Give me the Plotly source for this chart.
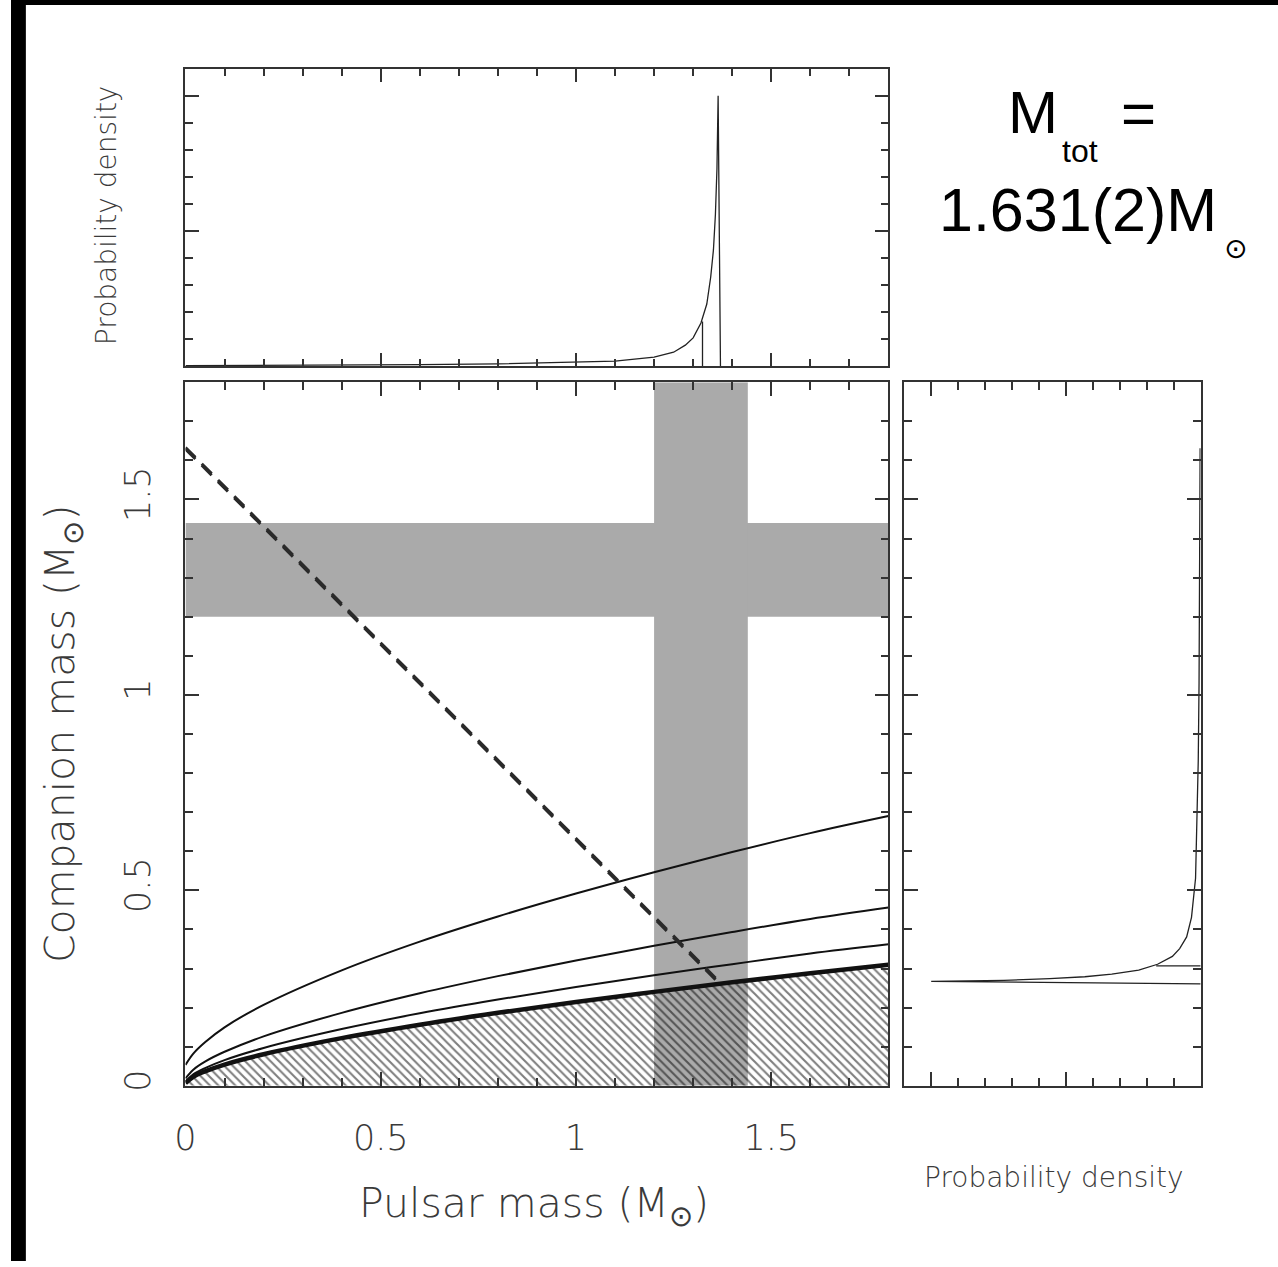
import plotly.graph_objects as go

W, H = 1278, 1267

# ---- data -------------------------------------------------------------
M_TOT = 1.631                       # total system mass (Msun)
M_TOT_ERR = 0.002

# pulsar-mass grid for the mass-function curves
pulsar_mass = [0, 0.02, 0.05, 0.1, 0.2, 0.4, 0.6, 0.8, 1.0, 1.2, 1.4, 1.6, 1.8]
# companion mass along each constant-inclination curve
mc_i30 = [0.0535, 0.0825, 0.1115, 0.1497, 0.207, 0.2955, 0.369, 0.4333, 0.492, 0.5466, 0.598, 0.6465, 0.690]
mc_i45 = [0.0189, 0.0413, 0.062, 0.0871, 0.1265, 0.1866, 0.2367, 0.2806, 0.3207, 0.3582, 0.3934, 0.4268, 0.4560]
mc_i60 = [0.0103, 0.0293, 0.0453, 0.0658, 0.0968, 0.1452, 0.1855, 0.2207, 0.2529, 0.2830, 0.3112, 0.3385, 0.362]
mc_i90 = [0.0067, 0.0232, 0.037, 0.0545, 0.0808, 0.122, 0.1563, 0.1868, 0.2145, 0.2403, 0.2648, 0.2878, 0.310]

# 1-sigma band limits for both masses
band_lo, band_hi = 1.20, 1.44

# total-mass line end point (meets the edge-on curve)
mtot_line_mp = [0.0, 1.37]

# marginal probability density of the pulsar mass
pdf_mp = [0, 0.2, 0.4, 0.6, 0.8, 1.0, 1.1, 1.2, 1.25, 1.28, 1.30, 1.32,
          1.335, 1.345, 1.352, 1.357, 1.361, 1.364, 1.370]
pdf_val = [0.02, 0.03, 0.04, 0.06, 0.09, 0.14, 0.19, 0.34, 0.52, 0.78, 1.05, 1.6,
           2.3, 3.3, 4.3, 5.6, 7.3, 10.0, 0.0]
pdf_limit_mp = 1.324
pdf_limit_val = 1.65

# ---- helpers ----------------------------------------------------------
def px(x):
    return x / W

def py(y):
    return 1 - y / H

AX_COL = '#333333'
TXT_COL = '#3a3a3a'
LIGHT = dict(family='DejaVu Sans', color=TXT_COL, weight=200)

def axis_common(**kw):
    d = dict(showline=True, linecolor=AX_COL, linewidth=1.5, mirror='allticks',
             ticks='inside', ticklen=14, tickwidth=1.5, tickcolor=AX_COL,
             showgrid=False, zeroline=False, fixedrange=True)
    d.update(kw)
    return d

fig = go.Figure()

# ---- main panel: companion vs pulsar mass ------------------------------
# hatched (excluded) region below the edge-on curve
fig.add_trace(go.Scatter(
    x=pulsar_mass, y=mc_i90, mode='lines', line=dict(width=0, shape='spline'),
    fill='tozeroy', fillcolor='rgba(0,0,0,0)',
    fillpattern=dict(shape='\\', size=6, solidity=0.35, fgcolor='#000000',
                     bgcolor='rgba(0,0,0,0)'),
    xaxis='x', yaxis='y', hoverinfo='skip', showlegend=False))

for ys, w in [(mc_i30, 2), (mc_i45, 2), (mc_i60, 2), (mc_i90, 4.5)]:
    fig.add_trace(go.Scatter(x=pulsar_mass, y=ys, mode='lines',
                             line=dict(color='#111111', width=w, shape='spline'),
                             xaxis='x', yaxis='y', showlegend=False))

# total mass constraint (two lines at +/- 1 sigma)
for m in (M_TOT - M_TOT_ERR, M_TOT + M_TOT_ERR):
    fig.add_trace(go.Scatter(x=mtot_line_mp, y=[m - v for v in mtot_line_mp],
                             mode='lines',
                             line=dict(color='#2a2a2a', width=3, dash='14px,9px'),
                             xaxis='x', yaxis='y', showlegend=False))

# ---- top panel: pulsar mass pdf ----------------------------------------
fig.add_trace(go.Scatter(x=pdf_mp, y=pdf_val, mode='lines',
                         line=dict(color='#222222', width=1.3),
                         xaxis='x2', yaxis='y2', showlegend=False))
fig.add_trace(go.Scatter(x=[pdf_limit_mp, pdf_limit_mp], y=[0, pdf_limit_val],
                         mode='lines', line=dict(color='#222222', width=1.3),
                         xaxis='x2', yaxis='y2', showlegend=False))

# ---- right panel: companion mass pdf (companion = total - pulsar) ------
fig.add_trace(go.Scatter(x=pdf_val, y=[M_TOT - m for m in pdf_mp], mode='lines',
                         line=dict(color='#222222', width=1.3),
                         xaxis='x3', yaxis='y3', showlegend=False))
fig.add_trace(go.Scatter(x=[0, pdf_limit_val], y=[M_TOT - pdf_limit_mp] * 2,
                         mode='lines', line=dict(color='#222222', width=1.3),
                         xaxis='x3', yaxis='y3', showlegend=False))

# ---- shapes: 1-sigma mass bands and frame edges -------------------------
shapes = [
    dict(type='rect', xref='x', yref='y', x0=0, x1=1.8, y0=band_lo, y1=band_hi,
         fillcolor='#aaaaaa', line=dict(width=0), layer='below'),
    dict(type='rect', xref='x', yref='y', x0=band_lo, x1=band_hi, y0=0, y1=1.8,
         fillcolor='#aaaaaa', line=dict(width=0), layer='below'),
    dict(type='rect', xref='paper', yref='paper', x0=0, x1=px(15), y0=0, y1=1,
         fillcolor='black', line=dict(width=0), layer='above'),
    dict(type='rect', xref='paper', yref='paper', x0=0, x1=1, y0=py(5), y1=1,
         fillcolor='black', line=dict(width=0), layer='above'),
]

# ---- text --------------------------------------------------------------
BIG = dict(family='Liberation Sans, Arial', color='black')
annotations = [
    dict(text='Pulsar mass (M<sub>⊙</sub>)', x=px(528), y=py(1212), showarrow=False,
         xref='paper', yref='paper', xanchor='center', yanchor='middle',
         font=dict(size=41, **LIGHT)),
    dict(text='Companion mass (M<sub>⊙</sub>)', x=px(52), y=py(738), showarrow=False,
         xref='paper', yref='paper', xanchor='center', yanchor='middle', textangle=-90,
         font=dict(size=41, **LIGHT)),
    dict(text='Probability density', x=px(97), y=py(216), showarrow=False,
         xref='paper', yref='paper', xanchor='center', yanchor='middle', textangle=-90,
         font=dict(size=28, **LIGHT)),
    dict(text='Probability density', x=px(1052), y=py(1183), showarrow=False,
         xref='paper', yref='paper', xanchor='center', yanchor='middle',
         font=dict(size=28, **LIGHT)),
    dict(text='M', x=px(1031), y=py(113), showarrow=False, xref='paper', yref='paper',
         xanchor='center', yanchor='middle', font=dict(size=60, **BIG)),
    dict(text='tot', x=px(1078), y=py(152), showarrow=False, xref='paper', yref='paper',
         xanchor='center', yanchor='middle', font=dict(size=32, **BIG)),
    dict(text='=', x=px(1137), y=py(114), showarrow=False, xref='paper', yref='paper',
         xanchor='center', yanchor='middle', font=dict(size=60, **BIG)),
    dict(text='1.631(2)M', x=px(1076), y=py(211), showarrow=False, xref='paper',
         yref='paper', xanchor='center', yanchor='middle', font=dict(size=61, **BIG)),
    dict(text='⊙', x=px(1235), y=py(250), showarrow=False, xref='paper', yref='paper',
         xanchor='center', yanchor='middle',
         font=dict(size=28, family='DejaVu Sans', color='black')),
]

minor_m = dict(ticks='inside', ticklen=8, tickwidth=1.5, tickcolor=AX_COL, dtick=0.1, tick0=0)
minor_p = dict(ticks='inside', ticklen=8, tickwidth=1.5, tickcolor=AX_COL, dtick=1, tick0=0)

main_x = (px(176), px(885))
main_y = (py(1091), py(384))
top_y = (py(368), py(69))
right_x = (px(901), px(1200))

fig.update_layout(
    width=W, height=H, autosize=False,
    margin=dict(l=0, r=0, t=0, b=0, pad=0),
    paper_bgcolor='white', plot_bgcolor='white',
    showlegend=False,
    shapes=shapes, annotations=annotations,
    xaxis=axis_common(domain=main_x, range=[0, 1.8], anchor='y',
                      tickvals=[0, 0.5, 1, 1.5], ticktext=['0', '0.5', '1', '1.5'],
                      tickfont=dict(size=35, **LIGHT), ticklabelstandoff=20,
                      minor=minor_m),
    yaxis=axis_common(domain=main_y, range=[0, 1.8], anchor='x',
                      tickvals=[0, 0.5, 1, 1.5], ticktext=['0', '0.5', '1', '1.5'],
                      tickfont=dict(size=35, **LIGHT), tickangle=-90,
                      ticklabelstandoff=20, minor=minor_m),
    xaxis2=axis_common(domain=main_x, range=[0, 1.8], anchor='y2',
                       dtick=0.5, tick0=0, showticklabels=False, minor=minor_m),
    yaxis2=axis_common(domain=top_y, range=[0, 11], anchor='x2',
                       dtick=5, tick0=0, showticklabels=False, minor=minor_p),
    xaxis3=axis_common(domain=right_x, range=[11, 0], anchor='y3',
                       dtick=5, tick0=0, showticklabels=False, minor=minor_p),
    yaxis3=axis_common(domain=main_y, range=[0, 1.8], anchor='x3',
                       dtick=0.5, tick0=0, showticklabels=False, minor=minor_m),
)

fig.write_html("out.html")
